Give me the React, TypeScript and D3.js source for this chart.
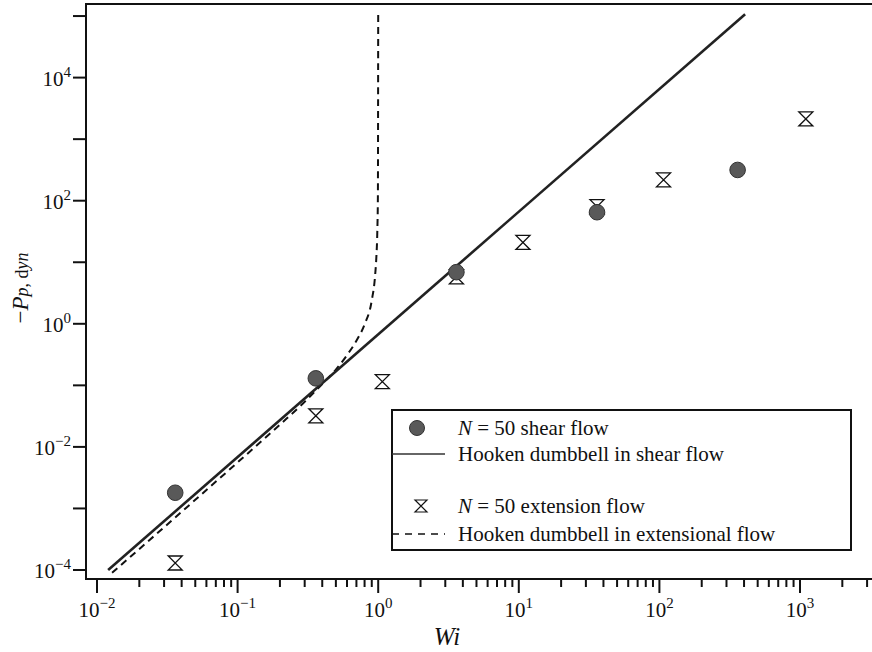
import React, { useEffect, useRef } from "react"
import * as d3 from "d3"

// N = 50 shear flow (filled circles)
const shearWi = [0.036, 0.36, 3.6, 36, 360]
const shearPp = [1.8e-3, 0.13, 6.9, 65, 316]
// N = 50 extension flow (hourglass markers)
const extWi = [0.036, 0.36, 1.07, 3.6, 10.7, 36, 107, 1100]
const extPp = [1.3e-4, 0.032, 0.115, 5.8, 21, 80, 218, 2130]
// Hooken dumbbell, shear (straight line in log-log)
const hookeShearWi = [0.012, 407]
const hookeShearPp = [1e-4, 1.07e5]
// Hooken dumbbell, extensional (blows up near Wi = 1)
const hookeExtWi = [0.0128, 0.05, 0.1, 0.2, 0.3, 0.4, 0.5, 0.6, 0.7, 0.8, 0.9, 0.95, 0.97, 0.985, 0.995, 1.0]
const hookeExtPp = [9e-5, 1.38e-3, 5.6e-3, 0.023, 0.054, 0.105, 0.18, 0.31, 0.53, 0.98, 2.4, 6, 12, 30, 120, 1.2e5]

const xMajorExps = [-2, -1, 0, 1, 2, 3]
const yMajorExps = [-4, -3, -2, -1, 0, 1, 2, 3, 4, 5]
const yLabelExps = [-4, -2, 0, 2, 4]
const legendLabels = ["= 50 shear flow", "Hooken dumbbell in shear flow", "= 50 extension flow", "Hooken dumbbell in extensional flow"]

const W = 872
const H = 652
const serif = "'Liberation Serif', 'DejaVu Serif', serif"

function hourglass(s: number) {
    return `M${-s},${-s}L${s},${-s}L${-s},${s}L${s},${s}Z`
}

function expText(e: number) {
    return e < 0 ? "\u2212" + Math.abs(e) : String(e)
}

export default function App() {
    const ref = useRef<SVGSVGElement>(null)

    useEffect(() => {
        const svg = d3.select(ref.current)
        svg.selectAll("*").remove()

        const left = 86
        const right = W
        const top = 4
        const bottom = 579

        const x = d3.scaleLog().domain([1e-2, 1e3]).range([97, 800])
        const y = d3.scaleLog().domain([1e-4, 1e4]).range([570, 77.6])

        // frame: left axis, bottom axis, top border
        svg.append("path")
            .attr("d", `M${right},${top}H${left}V${bottom}H${right}`)
            .attr("fill", "none")
            .attr("stroke", "#111")
            .attr("stroke-width", 2)

        // x ticks (major + minor), outward
        const xTicks: { v: number; major: boolean }[] = []
        for (let e = -2; e <= 3; e++) {
            for (let m = 1; m <= 9; m++) {
                const v = m * Math.pow(10, e)
                if (x(v) <= right) xTicks.push({ v, major: m === 1 })
            }
        }
        svg.append("g").selectAll("line")
            .data(xTicks)
            .enter()
            .append("line")
            .attr("x1", d => x(d.v))
            .attr("x2", d => x(d.v))
            .attr("y1", bottom)
            .attr("y2", d => bottom + (d.major ? 14 : 8))
            .attr("stroke", "#111")
            .attr("stroke-width", 2)

        const xl = svg.append("g").selectAll("text")
            .data(xMajorExps)
            .enter()
            .append("text")
            .attr("x", d => x(Math.pow(10, d)))
            .attr("y", 617)
            .attr("text-anchor", "middle")
            .attr("font-family", serif)
            .attr("font-size", 21)
            .attr("fill", "#111")
        xl.append("tspan").text("10")
        xl.append("tspan").attr("dy", -9).attr("font-size", 15).text(d => expText(d))

        // y ticks, one per decade
        svg.append("g").selectAll("line")
            .data(yMajorExps)
            .enter()
            .append("line")
            .attr("x1", left - 13)
            .attr("x2", left)
            .attr("y1", d => y(Math.pow(10, d)))
            .attr("y2", d => y(Math.pow(10, d)))
            .attr("stroke", "#111")
            .attr("stroke-width", 2)

        const yl = svg.append("g").selectAll("text")
            .data(yLabelExps)
            .enter()
            .append("text")
            .attr("x", 71)
            .attr("y", d => y(Math.pow(10, d)) + 8)
            .attr("text-anchor", "end")
            .attr("font-family", serif)
            .attr("font-size", 21)
            .attr("fill", "#111")
        yl.append("tspan").text("10")
        yl.append("tspan").attr("dy", -9).attr("font-size", 15).text(d => expText(d))

        // axis titles
        svg.append("text")
            .attr("x", 447)
            .attr("y", 645)
            .attr("text-anchor", "middle")
            .attr("font-family", serif)
            .attr("font-style", "italic")
            .attr("font-size", 25)
            .attr("fill", "#111")
            .text("Wi")

        const yt = svg.append("text")
            .attr("transform", "translate(28,288) rotate(-90)")
            .attr("text-anchor", "middle")
            .attr("font-family", serif)
            .attr("font-size", 23)
            .attr("fill", "#111")
        yt.append("tspan").text("\u2212")
        yt.append("tspan").attr("font-style", "italic").text("P")
        yt.append("tspan").attr("font-style", "italic").attr("font-size", 18).text("p")
        yt.append("tspan").attr("font-size", 18).text(", d")
        yt.append("tspan").attr("font-style", "italic").attr("font-size", 18).text("yn")

        // curves
        const line = d3.line<[number, number]>()
            .x(d => x(d[0]))
            .y(d => y(d[1]))

        svg.append("path")
            .datum(hookeExtWi.map((w, i) => [w, hookeExtPp[i]] as [number, number]))
            .attr("d", line.curve(d3.curveMonotoneX))
            .attr("fill", "none")
            .attr("stroke", "#111")
            .attr("stroke-width", 2)
            .attr("stroke-dasharray", "7,5")

        svg.append("path")
            .datum(hookeShearWi.map((w, i) => [w, hookeShearPp[i]] as [number, number]))
            .attr("d", d3.line<[number, number]>().x(d => x(d[0])).y(d => y(d[1])))
            .attr("fill", "none")
            .attr("stroke", "#222")
            .attr("stroke-width", 2.6)

        // points
        svg.append("g").selectAll("path")
            .data(extWi.map((w, i) => [w, extPp[i]]))
            .enter()
            .append("path")
            .attr("transform", d => `translate(${x(d[0])},${y(d[1])})`)
            .attr("d", hourglass(7))
            .attr("fill", "white")
            .attr("stroke", "#111")
            .attr("stroke-width", 1.3)

        svg.append("g").selectAll("circle")
            .data(shearWi.map((w, i) => [w, shearPp[i]]))
            .enter()
            .append("circle")
            .attr("cx", d => x(d[0]))
            .attr("cy", d => y(d[1]))
            .attr("r", 7.8)
            .attr("fill", "#595959")
            .attr("stroke", "#333")
            .attr("stroke-width", 1)

        // legend
        const lg = svg.append("g")
        lg.append("rect")
            .attr("x", 392)
            .attr("y", 410)
            .attr("width", 459)
            .attr("height", 140)
            .attr("fill", "white")
            .attr("stroke", "#111")
            .attr("stroke-width", 2)

        const rows = [428, 454, 506, 534]
        lg.append("circle").attr("cx", 417).attr("cy", rows[0]).attr("r", 7.5).attr("fill", "#595959").attr("stroke", "#333")
        lg.append("line").attr("x1", 392).attr("x2", 445).attr("y1", rows[1]).attr("y2", rows[1]).attr("stroke", "#333").attr("stroke-width", 1.5)
        lg.append("path").attr("transform", `translate(421,${rows[2]})`).attr("d", hourglass(6)).attr("fill", "white").attr("stroke", "#111").attr("stroke-width", 1.2)
        lg.append("line").attr("x1", 392).attr("x2", 445).attr("y1", rows[3]).attr("y2", rows[3]).attr("stroke", "#111").attr("stroke-width", 1.5).attr("stroke-dasharray", "7,6")

        rows.forEach((ry, i) => {
            const t = lg.append("text")
                .attr("x", 458)
                .attr("y", ry + 7)
                .attr("font-family", serif)
                .attr("font-size", 21)
                .attr("fill", "#111")
            if (i === 0 || i === 2) {
                t.append("tspan").attr("font-style", "italic").text("N")
                t.append("tspan").text(" " + legendLabels[i])
            } else {
                t.text(legendLabels[i])
            }
        })
    }, [])

    return (
        <svg
            ref={ref}
            width={W}
            height={H}
            style={{ position: "absolute", left: 0, top: 0, background: "white" }}
        />
    )
}
